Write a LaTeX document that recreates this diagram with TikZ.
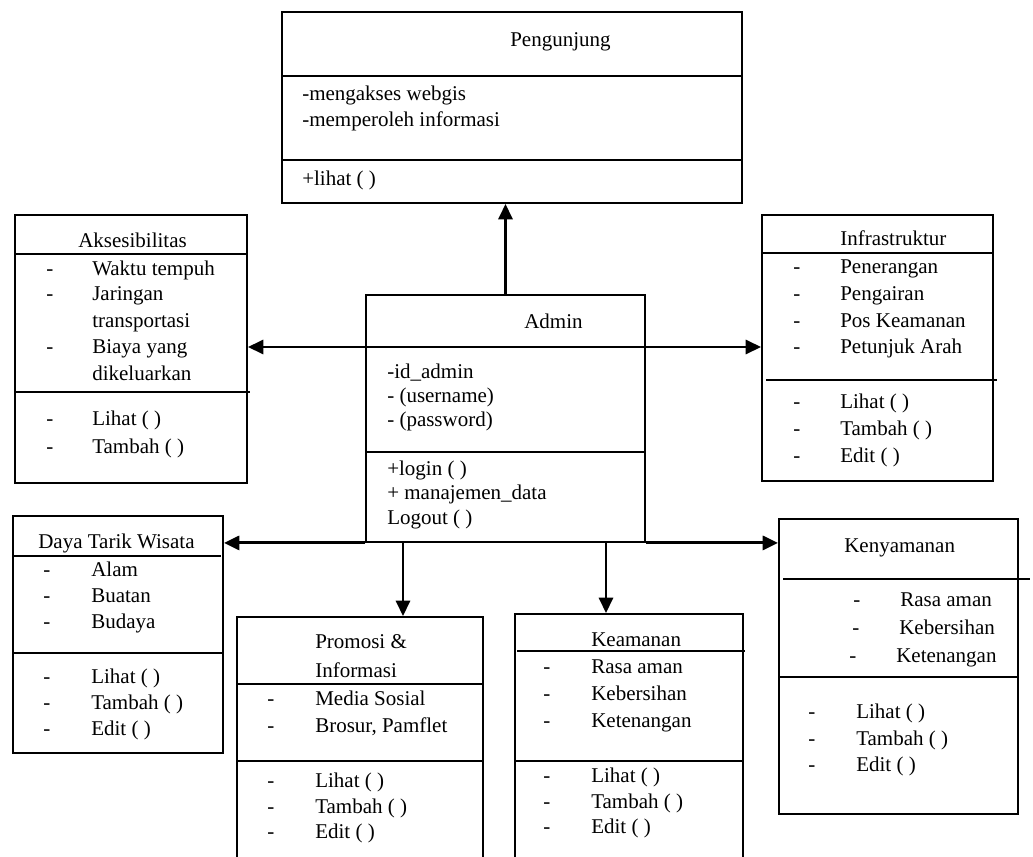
\documentclass[tikz,border=0pt]{standalone}
\usepackage{fontspec}
\setmainfont{Liberation Serif}
\usetikzlibrary{arrows.meta,fit}

% one list entry of a class box: a dash and its text on a common baseline
\newcommand\umlitem[5]{%
  \node[txt] (#1-d) at (#2,#4) {-};
  \node[txt] (#1) at (#3,#4) {#5};}

\begin{document}
\begin{tikzpicture}[x=0.75pt,y=-0.75pt,
  umlbox/.style={draw,line width=1.4pt,inner sep=0pt},
  divline/.style={line width=0.9pt},
  txt/.style={anchor=base west,inner sep=0pt,font=\fontsize{15.75}{19}\selectfont},
  link/.style={line width=2.2pt,-{Triangle[length=11.5pt,width=10.5pt]}}]

\clip (0,0) rectangle (1033,857);
\fill[white] (0,0) rectangle (1033,857);

% ---------- class boxes ----------
\node[umlbox,fit={(282,12) (742,203)}]  (peng)  {};
\node[umlbox,fit={(15,215) (247,483)}]  (aks)   {};
\node[umlbox,fit={(366,295) (645,542)}] (admin) {};
\node[umlbox,fit={(762,215) (993,481)}] (infra) {};
\node[umlbox,fit={(13,516) (223,753)}]  (daya)  {};
\node[umlbox,fit={(237,617) (483,880)}] (promo) {};
\node[umlbox,fit={(515,614) (743,880)}] (keam)  {};
\node[umlbox,fit={(779,519) (1018,814)}] (kenya) {};

% ---------- compartment lines ----------
\draw[divline] (282,76) -- (742,76);
\draw[divline] (282,160) -- (742,160);
\draw[divline] (15,254) -- (247,254);
\draw[divline] (15,392) -- (250,392);
\draw[divline] (366,347) -- (645,347);
\draw[divline] (366,452) -- (645,452);
\draw[divline] (762,253) -- (993,253);
\draw[divline] (766,380) -- (997,380);
\draw[divline] (12,556) -- (221,556);
\draw[divline] (13,653) -- (223,653);
\draw[divline] (237,684) -- (483,684);
\draw[divline] (237,761) -- (483,761);
\draw[divline] (517,651) -- (745,651);
\draw[divline] (515,761) -- (743,761);
\draw[divline] (783,579) -- (1030,579);
\draw[divline] (779,677) -- (1018,677);

% ---------- Pengunjung ----------
\node[txt] (peng-t)  at (510,46)  {Pengunjung};
\node[txt] (peng-a1) at (302,100) {-mengakses webgis};
\node[txt] (peng-a2) at (302,126) {-memperoleh informasi};
\node[txt] (peng-m1) at (302,185) {+lihat ( )};

% ---------- Aksesibilitas ----------
\node[txt] (aks-t) at (78,247) {Aksesibilitas};
\umlitem{aks-a1}{46}{92}{275}{Waktu tempuh}
\umlitem{aks-a2}{46}{92}{300}{Jaringan}
\node[txt] (aks-a2b) at (92,327) {transportasi};
\umlitem{aks-a3}{46}{92}{353}{Biaya yang}
\node[txt] (aks-a3b) at (92,380) {dikeluarkan};
\umlitem{aks-m1}{46}{92}{425}{Lihat ( )}
\umlitem{aks-m2}{46}{92}{453}{Tambah ( )}

% ---------- Admin ----------
\node[txt] (admin-t)  at (524,328) {Admin};
\node[txt] (admin-a1) at (387,378) {-id\_admin};
\node[txt] (admin-a2) at (387,402) {- (username)};
\node[txt] (admin-a3) at (387,426) {- (password)};
\node[txt] (admin-m1) at (387,475) {+login ( )};
\node[txt] (admin-m2) at (387,499) {+ manajemen\_data};
\node[txt] (admin-m3) at (387,524) {Logout ( )};

% ---------- Infrastruktur ----------
\node[txt] (infra-t) at (840,245) {Infrastruktur};
\umlitem{infra-a1}{793}{840}{273}{Penerangan}
\umlitem{infra-a2}{793}{840}{300}{Pengairan}
\umlitem{infra-a3}{793}{840}{327}{Pos Keamanan}
\umlitem{infra-a4}{793}{840}{353}{Petunjuk Arah}
\umlitem{infra-m1}{793}{840}{408}{Lihat ( )}
\umlitem{infra-m2}{793}{840}{435}{Tambah ( )}
\umlitem{infra-m3}{793}{840}{462}{Edit ( )}

% ---------- Daya Tarik Wisata ----------
\node[txt] (daya-t) at (38,548) {Daya Tarik Wisata};
\umlitem{daya-a1}{43}{91}{576}{Alam}
\umlitem{daya-a2}{43}{91}{602}{Buatan}
\umlitem{daya-a3}{43}{91}{628}{Budaya}
\umlitem{daya-m1}{43}{91}{683}{Lihat ( )}
\umlitem{daya-m2}{43}{91}{709}{Tambah ( )}
\umlitem{daya-m3}{43}{91}{735}{Edit ( )}

% ---------- Promosi & Informasi ----------
\node[txt] (promo-t1) at (315,648) {Promosi \&};
\node[txt] (promo-t2) at (315,677) {Informasi};
\umlitem{promo-a1}{267}{315}{705}{Media Sosial}
\umlitem{promo-a2}{267}{315}{732}{Brosur, Pamflet}
\umlitem{promo-m1}{267}{315}{787}{Lihat ( )}
\umlitem{promo-m2}{267}{315}{813}{Tambah ( )}
\umlitem{promo-m3}{267}{315}{838}{Edit ( )}

% ---------- Keamanan ----------
\node[txt] (keam-t) at (591,646) {Keamanan};
\umlitem{keam-a1}{543}{591}{673}{Rasa aman}
\umlitem{keam-a2}{543}{591}{700}{Kebersihan}
\umlitem{keam-a3}{543}{591}{727}{Ketenangan}
\umlitem{keam-m1}{543}{591}{782}{Lihat ( )}
\umlitem{keam-m2}{543}{591}{808}{Tambah ( )}
\umlitem{keam-m3}{543}{591}{833}{Edit ( )}

% ---------- Kenyamanan ----------
\node[txt] (kenya-t) at (844,552) {Kenyamanan};
\umlitem{kenya-a1}{853}{900}{606}{Rasa aman}
\umlitem{kenya-a2}{852}{899}{634}{Kebersihan}
\umlitem{kenya-a3}{849}{896}{662}{Ketenangan}
\umlitem{kenya-m1}{808}{856}{718}{Lihat ( )}
\umlitem{kenya-m2}{808}{856}{745}{Tambah ( )}
\umlitem{kenya-m3}{808}{856}{771}{Edit ( )}

% ---------- associations from Admin ----------
\coordinate (rowmid) at (0,347);
\coordinate (promox) at (403,0);
\coordinate (keamx)  at (606,0);

\draw[link] (admin.north) -- (admin.north |- peng.south);
\draw[link] (admin.west |- rowmid) -- (aks.east |- rowmid);
\draw[link] (admin.east |- rowmid) -- (infra.west |- rowmid);
\draw[link] (admin.south west) -- (daya.east |- admin.south west);
\draw[link] (admin.south east) -- (kenya.west |- admin.south east);
\draw[link] (promox |- admin.south) -- (promox |- promo.north);
\draw[link] (keamx |- admin.south) -- (keamx |- keam.north);

\end{tikzpicture}
\end{document}
